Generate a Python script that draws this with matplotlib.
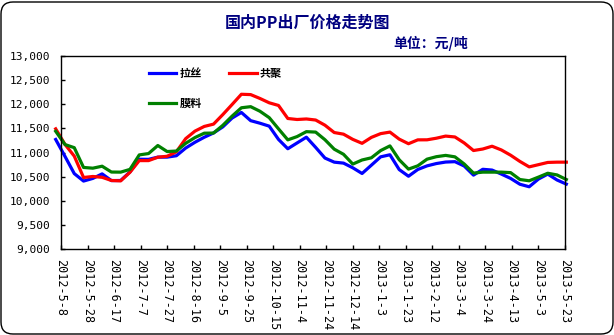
import matplotlib
matplotlib.use('Agg')
from matplotlib import pyplot as plt
from matplotlib.patches import FancyBboxPatch
from matplotlib.ticker import FuncFormatter, MultipleLocator
import pandas as pd

plt.rcParams['font.family'] = ['Noto Sans CJK SC', 'DejaVu Sans']

# weekly quotes, first one a few days before the axis start
dates = pd.date_range('2012-05-04', periods=56, freq='7D')

lasi = [11270, 10920, 10563, 10408, 10463, 10557, 10418, 10420, 10597, 10860,
        10858, 10904, 10904, 10933, 11092, 11212, 11316, 11405, 11531, 11714,
        11830, 11660, 11607, 11546, 11271, 11078, 11198, 11317, 11106, 10885,
        10800, 10780, 10683, 10565, 10737, 10910, 10953, 10646, 10508, 10648,
        10723, 10771, 10802, 10810, 10720, 10531, 10652, 10636, 10553, 10463,
        10342, 10290, 10450, 10552, 10430, 10345]
gongju = [11490, 11168, 10925, 10482, 10503, 10486, 10420, 10412, 10590, 10832,
          10832, 10902, 10922, 11015, 11287, 11443, 11540, 11588, 11786, 11995,
          12207, 12200, 12120, 12030, 11975, 11705, 11684, 11695, 11673, 11566,
          11414, 11380, 11272, 11190, 11313, 11391, 11423, 11277, 11182, 11262,
          11263, 11296, 11340, 11322, 11198, 11041, 11072, 11130, 11053, 10944,
          10815, 10702, 10748, 10794, 10800, 10800]
moliao = [11440, 11165, 11100, 10690, 10675, 10716, 10595, 10593, 10650, 10950,
          10978, 11145, 11020, 11030, 11190, 11310, 11400, 11403, 11563, 11754,
          11927, 11950, 11855, 11722, 11490, 11262, 11330, 11432, 11423, 11265,
          11069, 10963, 10760, 10845, 10890, 11040, 11137, 10850, 10656, 10724,
          10862, 10913, 10940, 10910, 10762, 10573, 10593, 10593, 10593, 10583,
          10440, 10414, 10490, 10570, 10535, 10440]

tick_dates = pd.date_range('2012-05-08', periods=20, freq='20D')
tick_labels = ['%d-%d-%d' % (d.year, d.month, d.day) for d in tick_dates]


def plot_price():
    fig = plt.figure(figsize=(6.14, 3.35), dpi=100)
    ax = fig.add_axes([61 / 614, 1 - 249 / 335, 504 / 614, 193 / 335])

    l1, = ax.plot(dates, lasi, color='#0000FF', lw=2.3, clip_on=False, label='拉丝')
    l2, = ax.plot(dates, gongju, color='#FF0000', lw=2.3, clip_on=False, label='共聚')
    l3, = ax.plot(dates, moliao, color='#008000', lw=2.3, clip_on=False, label='膜料')

    ax.set_xlim(tick_dates[0], tick_dates[-1])
    ax.set_ylim(9000, 13000)
    ax.yaxis.set_major_locator(MultipleLocator(500))
    ax.yaxis.set_major_formatter(FuncFormatter(lambda v, p: '{:,.0f}'.format(v)))
    ax.set_xticks(tick_dates)
    ax.set_xticklabels(tick_labels, rotation=-90, va='top', ha='center')

    for lab in ax.get_xticklabels():
        lab.set_family('DejaVu Sans Mono')
        lab.set_fontsize(8.5)
    for lab in ax.get_yticklabels():
        lab.set_family('DejaVu Sans Mono')
        lab.set_fontsize(8)
    ax.tick_params(axis='both', direction='in', length=3, width=1, color='black')
    ax.tick_params(axis='x', pad=7)
    ax.tick_params(axis='y', pad=8)
    for s in ax.spines.values():
        s.set_linewidth(1)
        s.set_color('black')

    ax.legend(handles=[l1, l3, l2], ncol=2, loc='upper left',
              bbox_to_anchor=(0.163, 0.97), frameon=False, borderpad=0,
              handlelength=2.5, handletextpad=0.3, columnspacing=2.4,
              labelspacing=1.45, prop={'size': 8, 'weight': 'bold'})

    fig.text(0.5, 1 - 23 / 335, '国内PP出厂价格走势图', ha='center', va='center',
             fontsize=11.5, fontweight='bold', color='#000080')
    fig.text(468 / 614, 1 - 43 / 335, '单位：元/吨', ha='right', va='center',
             fontsize=10, fontweight='bold', color='#000080')

    border = FancyBboxPatch((0.01, 0.01), 6.12, 3.32,
                            boxstyle='round,pad=0,rounding_size=0.12',
                            transform=fig.dpi_scale_trans, fill=False,
                            edgecolor='black', linewidth=1)
    fig.patches.append(border)

    fig.savefig('out.png', dpi=100)


if __name__ == '__main__':
    plot_price()
